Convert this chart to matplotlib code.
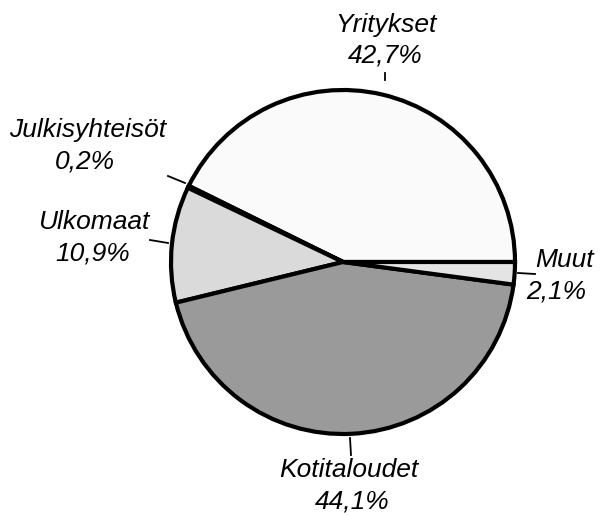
import matplotlib.pyplot as plt

# osuudet, vastapäivään alkaen klo 3:sta
labels = ["Yritykset", "Julkisyhteisöt", "Ulkomaat", "Kotitaloudet", "Muut"]
shares = [42.7, 0.2, 10.9, 44.1, 2.1]
share_text = ["42,7%", "0,2%", "10,9%", "44,1%", "2,1%"]
fills = ["#fafafa", "#d0d0d0", "#dadada", "#9a9a9a", "#e4e4e4"]

W, H = 602, 515
fig = plt.figure(figsize=(W / 100, H / 100), dpi=100)
ax = fig.add_axes([0, 0, 1, 1])

cx, cy, r = 343, H - 262, 172
ax.pie(shares, colors=fills, startangle=0, counterclock=True,
       center=(cx, cy), radius=r, frame=True,
       wedgeprops=dict(edgecolor="black", linewidth=3))
ax.set_xlim(0, W)
ax.set_ylim(0, H)
ax.set_aspect("equal")
ax.axis("off")

# nimien ja prosenttien paikat (pikseleinä, y ylhäältä)
name_xy = [(386, 25), (88, 130), (94, 222), (349, 470), (564, 260)]
pct_xy = [(385, 56), (85, 161), (93, 254), (352, 501), (556, 291)]
leaders = [((385, 73), (385, 80)),
           ((168, 176), (185, 183)),
           ((150, 240), (168, 243)),
           ((350, 438), (351, 455)),
           ((518, 273), (535, 274))]

font = dict(family="Liberation Sans", style="italic", fontsize=19,
            ha="center", va="center")
for name, pct, (x, y), (px, py) in zip(labels, share_text, name_xy, pct_xy):
    ax.text(x, H - y, name, **font)
    ax.text(px, H - py, pct, **font)

for (x0, y0), (x1, y1) in leaders:
    ax.plot([x0, x1], [H - y0, H - y1], color="black", lw=1.3)

fig.savefig("out.png", dpi=100)
